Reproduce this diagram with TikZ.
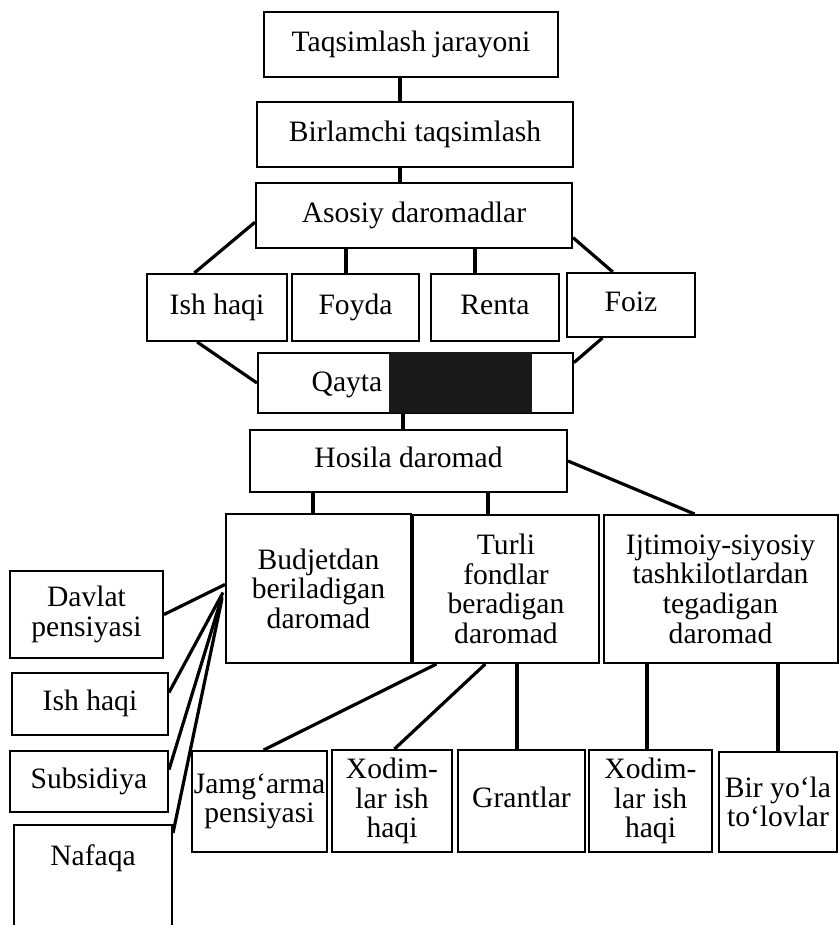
\documentclass[tikz,border=0pt]{standalone}
\usepackage{fontspec}
\setmainfont{Liberation Serif}
\usetikzlibrary{calc}

\begin{document}
\begin{tikzpicture}[x=0.5pt, y=-0.5pt,
  box/.style={draw, line width=1pt, inner sep=0pt, align=center,
              font=\fontsize{14.8}{14.8}\selectfont},
  oneline/.style={text height=10pt, text depth=3.2pt},
  ln/.style={line width=1.6pt}
]
  \useasboundingbox (0,0) rectangle (839,925);

  \node[box, oneline, minimum width=147pt, minimum height=32.5pt] (taq)  at (411,44.5)  {Taqsimlash jarayoni};
  \node[box, oneline, minimum width=158pt, minimum height=32.5pt] (birl) at (415,134.5) {Birlamchi taqsimlash};
  \node[box, oneline, minimum width=158pt, minimum height=32.5pt] (asos) at (414,215.5) {Asosiy daromadlar};

  \node[box, oneline, minimum width=70pt, minimum height=33.5pt] (ish)   at (217,307.5)   {Ish haqi};
  \node[box, oneline, minimum width=63.5pt, minimum height=33.5pt] (foyda) at (355.5,307.5) {Foyda};
  \node[box, oneline, minimum width=64pt, minimum height=33.5pt] (renta) at (495,307.5)   {Renta};
  \node[box, oneline, minimum width=64pt, minimum height=32pt]   (foiz)  at (631,305)     {Foiz};

  \node[box, minimum width=157.5pt, minimum height=30pt] (qayta) at (415.5,383) {};
  \node[font=\fontsize{14.8}{14.8}\selectfont] (qaytatxt) at (347,385) {Qayta};
  \fill[black!90] ($(qayta.north west)+(132,0)$) rectangle ($(qayta.south west)+(275,-1)$);

  \node[box, oneline, minimum width=158.5pt, minimum height=31pt] (hosila) at (408.5,461) {Hosila daromad};

  \node[box, minimum width=92.5pt, minimum height=74.5pt] (budjet) at (318.5,588.5) {Budjetdan\\beriladigan\\daromad};
  \node[box, minimum width=93pt, minimum height=74pt]     (turli)  at (506,589)     {Turli\\fondlar\\beradigan\\daromad};
  \node[box, minimum width=117pt, minimum height=74pt]    (ijtim)  at (720.5,589)   {Ijtimoiy-siyosiy\\tashkilotlardan\\tegadigan\\daromad};

  \node[box, minimum width=76.5pt, minimum height=43.5pt] (davlat) at (86.5,614.5) {Davlat\\pensiyasi};
  \node[box, oneline, minimum width=78pt, minimum height=31pt]   (ishb) at (90,704)   {Ish haqi};
  \node[box, oneline, minimum width=79pt, minimum height=30.5pt] (subs) at (89,781.5) {Subsidiya};
  \node[box, anchor=north, minimum width=79pt, inner ysep=10pt, text depth=45pt] (nafaqa) at (93,824) {Nafaqa};

  \node[box, minimum width=67.5pt, minimum height=50.5pt] (jamg)    at (259.5,801.5) {Jamg‘arma\\pensiyasi};
  \node[box, minimum width=60pt, minimum height=51pt]     (xoda)    at (392,801)     {Xodim-\\lar ish\\haqi};
  \node[box, oneline, minimum width=63.5pt, minimum height=51pt] (grant) at (521.5,801) {Grantlar};
  \node[box, minimum width=61.5pt, minimum height=51pt]   (xodb)    at (650.5,801)   {Xodim-\\lar ish\\haqi};
  \node[box, minimum width=59pt, minimum height=50pt]     (biryola) at (778,802)     {Bir yo‘la\\to‘lovlar};

  \draw[ln] (taq.south -| 400,0) -- (birl.north -| 400,0);
  \draw[ln] (birl.south -| 400,0) -- (asos.north -| 400,0);
  \draw[ln] (asos.south -| 346,0) -- (foyda.north -| 346,0);
  \draw[ln] (asos.south -| 475,0) -- (renta.north -| 475,0);
  \draw[ln] ($(asos.north west)!0.6!(asos.south west)$) -- ($(ish.north west)!0.34!(ish.north east)$);
  \draw[ln] ($(asos.north east)!0.83!(asos.south east)$) -- ($(foiz.north west)!0.36!(foiz.north east)$);
  \draw[ln] ($(ish.south west)!0.36!(ish.south east)$) -- (qayta.west);
  \draw[ln] ($(foiz.south west)!0.28!(foiz.south east)$) -- ($(qayta.north east)!0.17!(qayta.south east)$);

  \draw[ln] (qayta.south -| 403,0) -- (hosila.north -| 403,0);
  \draw[ln] (hosila.south -| 313,0) -- (budjet.north -| 313,0);
  \draw[ln] (hosila.south -| 488,0) -- (turli.north -| 488,0);
  \draw[ln] (hosila.east) -- ($(ijtim.north west)!0.39!(ijtim.north east)$);

  \draw[ln] ([yshift=2pt]budjet.west) -- (davlat.east);
  \draw[ln] ([xshift=-1pt,yshift=-2pt]budjet.west) -- ($(ishb.north east)!0.32!(ishb.south east)$);
  \draw[ln] ([xshift=-1.5pt,yshift=-4pt]budjet.west) -- ($(subs.north east)!0.31!(subs.south east)$);
  \draw[ln] ([xshift=-1.5pt,yshift=-5pt]budjet.west) -- ([yshift=-4.5pt]nafaqa.north east);

  \draw[ln] ($(turli.south west)!0.13!(turli.south east)$) -- ($(jamg.north west)!0.53!(jamg.north east)$);
  \draw[ln] ($(turli.south west)!0.39!(turli.south east)$) -- ($(xoda.north west)!0.52!(xoda.north east)$);
  \draw[ln] (turli.south -| 517,0) -- (grant.north -| 517,0);
  \draw[ln] (ijtim.south -| 647,0) -- (xodb.north -| 647,0);
  \draw[ln] (ijtim.south -| 778,0) -- (biryola.north -| 778,0);
\end{tikzpicture}
\end{document}
